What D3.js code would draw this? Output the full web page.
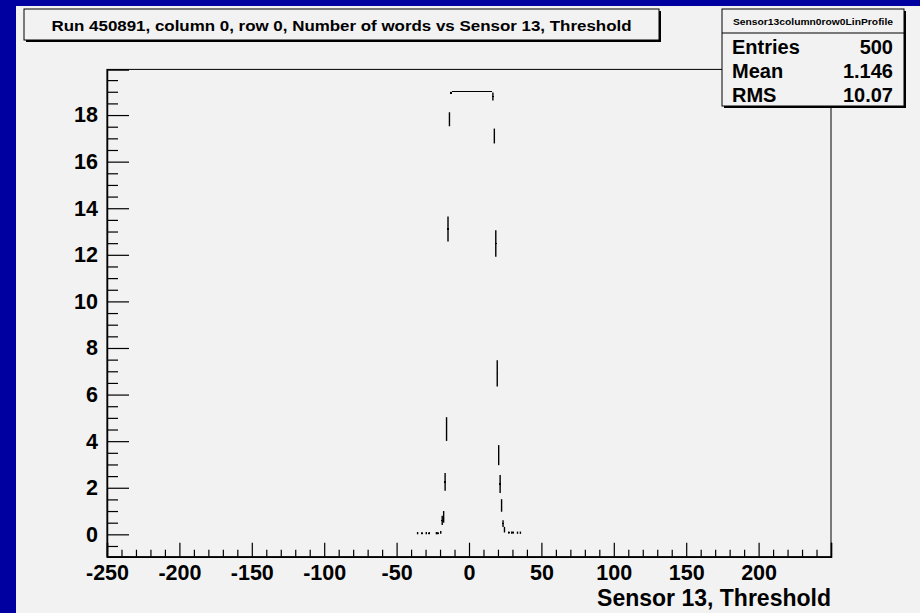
<!DOCTYPE html>
<html>
<head>
<meta charset="utf-8">
<script src="https://cdn.jsdelivr.net/npm/d3@7"></script>
<style>
  html, body { margin: 0; padding: 0; background: #0000a0; }
  svg { display: block; }
  text { font-family: "Liberation Sans", Arial, Helvetica, sans-serif; font-weight: bold; fill: #000; }
</style>
</head>
<body>
<script>
// Profile of number of words per threshold bin (bin centres, mean, error on mean)
const binX = [
  -35.5, -32.5, -29.5, -27.5, -22.5, -21.5, -19.5, -18.5, -17.5, -16.5,
  -15.5, -14.5, -13.5, -12.5, -11.5, -10.5, -9.5, -8.5, -7.5, -6.5,
  -5.5, -4.5, -3.5, -2.5, -1.5, -0.5, 0.5, 1.5, 2.5, 3.5,
  4.5, 5.5, 6.5, 7.5, 8.5, 9.5, 10.5, 11.5, 12.5, 13.5,
  14.5, 15.5, 16.5, 17.5, 18.5, 19.5, 20.5, 21.5, 22.5, 23.5,
  24.5, 27.5, 29.5, 30.5, 33.5, 35.5
];
const binMean = [
  0.05, 0.05, 0.05, 0.05, 0.05, 0.05, 0.08, 0.6, 0.75, 2.25,
  4.52, 13.11, 17.82, 18.95, 19, 19, 19, 19, 19, 19,
  19, 19, 19, 19, 19, 19, 19, 19, 19, 19,
  19, 19, 19, 19, 19, 19, 19, 19, 19, 19,
  19, 19, 18.8, 17.1, 12.49, 6.91, 3.4, 2.16, 1.24, 0.46,
  0.2, 0.07, 0.07, 0.07, 0.07, 0.07
];
const binErr = [
  0.05, 0.05, 0.05, 0.05, 0.05, 0.05, 0.06, 0.2, 0.25, 0.38,
  0.51, 0.54, 0.3, 0.05, 0, 0, 0, 0, 0, 0,
  0, 0, 0, 0, 0, 0, 0, 0, 0, 0,
  0, 0, 0, 0, 0, 0, 0, 0, 0, 0,
  0, 0, 0.17, 0.32, 0.57, 0.56, 0.43, 0.39, 0.27, 0.15,
  0.12, 0.05, 0.05, 0.05, 0.05, 0.05
];
const binWidth = 1;

// Axis ranges and tick values
const xDomain = [-250, 250];
const yDomain = [-0.96, 19.96];
const xMajorTicks = [-250, -200, -150, -100, -50, 0, 50, 100, 150, 200, 250];
const xTickLabels = [-250, -200, -150, -100, -50, 0, 50, 100, 150, 200];
const yMajorTicks = [0, 2, 4, 6, 8, 10, 12, 14, 16, 18];

const titleText = "Run 450891, column 0, row 0, Number of words vs Sensor 13, Threshold";
const xAxisTitle = "Sensor 13, Threshold";
const statsName = "Sensor13column0row0LinProfile";
const statsLabels = ["Entries", "Mean", "RMS"];
const statsValues = ["500", "1.146", "10.07"];

const W = 920, H = 613;
const frame = { left: 107, right: 831, top: 69.4, bottom: 556.7 };

const svg = d3.select("body").append("svg").attr("width", W).attr("height", H);

// canvas: grey pad inside the blue border
svg.append("rect").attr("x", 16).attr("y", 6).attr("width", W - 16).attr("height", H - 6).attr("fill", "#f2f2f2");

const x = d3.scaleLinear().domain(xDomain).range([frame.left, frame.right]);
const y = d3.scaleLinear().domain(yDomain).range([frame.bottom, frame.top]);

// frame
svg.append("rect")
  .attr("x", frame.left).attr("y", frame.top)
  .attr("width", frame.right - frame.left).attr("height", frame.bottom - frame.top)
  .attr("fill", "none").attr("stroke", "#000").attr("stroke-width", 1);

// x axis: minor ticks every 10, major every 50
const xMinor = d3.range(xDomain[0], xDomain[1] + 0.001, 10).filter(v => !xMajorTicks.includes(v));
svg.append("g").attr("transform", `translate(0,${frame.bottom})`)
  .call(d3.axisBottom(x).tickValues(xMinor).tickSize(-7).tickFormat(""))
  .call(g => g.select(".domain").remove());
const gx = svg.append("g").attr("transform", `translate(0,${frame.bottom})`)
  .call(d3.axisBottom(x).tickValues(xMajorTicks).tickSize(-14).tickPadding(8)
    .tickFormat(d => xTickLabels.includes(d) ? d : ""));
gx.select(".domain").attr("stroke-width", 1.5);
gx.selectAll("text").style("font-size", "21.5px").attr("font-family", null);

// y axis: minor ticks every 0.5, major every 2
const yMinor = d3.range(-0.5, yDomain[1], 0.5).filter(v => !yMajorTicks.includes(v));
svg.append("g").attr("transform", `translate(${frame.left},0)`)
  .call(d3.axisLeft(y).tickValues(yMinor).tickSize(-11).tickFormat(""))
  .call(g => g.select(".domain").remove());
const gy = svg.append("g").attr("transform", `translate(${frame.left},0)`)
  .call(d3.axisLeft(y).tickValues(yMajorTicks).tickSize(-22).tickPadding(9));
gy.select(".domain").attr("stroke-width", 1.5);
gy.selectAll("text").style("font-size", "21.5px").attr("font-family", null);
svg.selectAll(".tick line").attr("stroke-width", 1.2);

// axis title
svg.append("text").attr("x", frame.right).attr("y", 606)
  .attr("text-anchor", "end").style("font-size", "23px").text(xAxisTitle);

// profile points: horizontal bar over bin width, vertical error bar
const pts = binX.map((bx, i) => ({ x: bx, m: binMean[i], e: binErr[i] }));
const gp = svg.append("g").attr("stroke", "#000");
gp.selectAll("line.h").data(pts).join("line").attr("class", "h")
  .attr("shape-rendering", "crispEdges").attr("stroke-width", 1.3)
  .attr("x1", d => x(d.x - binWidth / 2)).attr("x2", d => x(d.x + binWidth / 2))
  .attr("y1", d => y(d.m)).attr("y2", d => y(d.m));
gp.selectAll("line.v").data(pts.filter(d => d.e > 0)).join("line").attr("class", "v")
  .attr("stroke-width", 1.4)
  .attr("x1", d => x(d.x)).attr("x2", d => x(d.x))
  .attr("y1", d => y(d.m - d.e)).attr("y2", d => y(d.m + d.e));

// title box with shadow
const tb = { x: 24, y: 9, w: 635, h: 31 };
svg.append("rect").attr("x", tb.x + 2).attr("y", tb.y + 2).attr("width", tb.w).attr("height", tb.h).attr("fill", "#000");
svg.append("rect").attr("x", tb.x).attr("y", tb.y).attr("width", tb.w).attr("height", tb.h)
  .attr("fill", "#f2f2f2").attr("stroke", "#000").attr("stroke-width", 1);
svg.append("text").attr("x", tb.x + tb.w / 2).attr("y", 30.5).attr("text-anchor", "middle")
  .style("font-size", "15px").attr("textLength", 580).attr("lengthAdjust", "spacingAndGlyphs")
  .text(titleText);

// statistics box with shadow
const sb = { x: 722, y: 9, w: 182, h: 97 };
svg.append("rect").attr("x", sb.x + 2).attr("y", sb.y + 2).attr("width", sb.w).attr("height", sb.h).attr("fill", "#000");
svg.append("rect").attr("x", sb.x).attr("y", sb.y).attr("width", sb.w).attr("height", sb.h)
  .attr("fill", "#f2f2f2").attr("stroke", "#000").attr("stroke-width", 1);
svg.append("line").attr("x1", sb.x).attr("x2", sb.x + sb.w).attr("y1", 33).attr("y2", 33)
  .attr("stroke", "#000").attr("stroke-width", 1);
svg.append("text").attr("x", sb.x + sb.w / 2).attr("y", 25).attr("text-anchor", "middle")
  .style("font-size", "9px").attr("textLength", 160).attr("lengthAdjust", "spacingAndGlyphs")
  .text(statsName);
const rowY = [54, 78, 101.5];
statsLabels.forEach((lab, i) => {
  svg.append("text").attr("x", 732).attr("y", rowY[i]).style("font-size", "20px").text(lab);
  svg.append("text").attr("x", 893).attr("y", rowY[i]).attr("text-anchor", "end")
    .style("font-size", "20px").text(statsValues[i]);
});
</script>
</body>
</html>
